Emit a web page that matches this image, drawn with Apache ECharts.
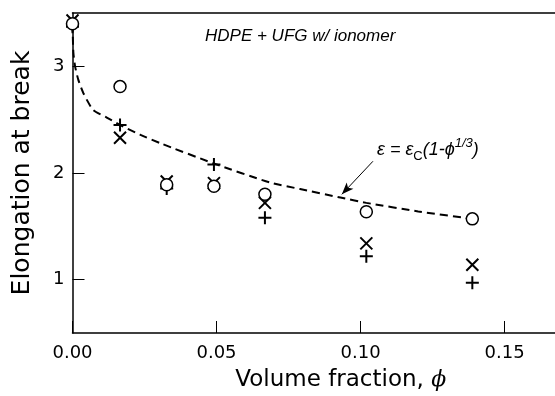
<!DOCTYPE html>
<html>
<head>
<meta charset="utf-8">
<script src="https://cdn.jsdelivr.net/npm/echarts@6/dist/echarts.min.js"></script>
<style>
  html, body { margin: 0; padding: 0; background: #fff; }
  #chart { width: 555px; height: 396px; }
</style>
</head>
<body>
<div id="chart"></div>
<script>
// volume fraction (phi) and elongation at break
const phiPts = [0, 0.0165, 0.0327, 0.0491, 0.0668, 0.102, 0.1388]
const elongCircle = [3.40, 2.81, 1.89, 1.875, 1.80, 1.636, 1.57]
const elongCross = [3.43, 2.33, 1.92, 1.905, 1.72, 1.34, 1.14]
const elongPlus = [3.37, 2.45, 1.855, 2.08, 1.58, 1.22, 0.97]

// dashed model curve
const phiFit = [0, 0.0003, 0.0009, 0.002, 0.00375, 0.0072, 0.0119, 0.0165, 0.0234, 0.0304, 0.049, 0.0686, 0.079, 0.093, 0.102, 0.12, 0.1388]
const elongFit = [3.40, 3.13, 3.00, 2.875, 2.75, 2.59, 2.52, 2.45, 2.36, 2.28, 2.09, 1.91, 1.85, 1.77, 1.72, 1.64, 1.57]

const xTicks = [0, 0.05, 0.10, 0.15]
const yTicks = [1, 2, 3]

const pairs = (xs, ys) => xs.map((x, i) => [x, ys[i]])

const ink = '#000'
const axisFont = 'DejaVu Sans'
const crossPath = 'path://M0,0L10,10M10,0L0,10'
const plusPath = 'path://M5,0L5,10M0,5L10,5'

const chart = echarts.init(document.getElementById('chart'))

chart.setOption({
  animation: false,
  title: {
    text: 'HDPE + UFG w/ ionomer',
    left: 200,
    top: 23,
    textStyle: {
      fontFamily: 'Liberation Sans',
      fontStyle: 'italic',
      fontWeight: 'normal',
      fontSize: 17,
      color: ink,
    },
  },
  grid: { left: 72.5, top: 13, right: 0, bottom: 63, outerBoundsMode: 'none', containLabel: false },
  xAxis: [
    {
      type: 'value',
      min: 0,
      max: 0.1675,
      name: 'Volume fraction, {i|ϕ}',
      nameLocation: 'middle',
      nameGap: 36,
      nameTextStyle: {
        fontFamily: axisFont,
        fontSize: 23,
        color: ink,
        padding: [0, 0, 0, 54],
        rich: {
          i: { fontFamily: 'DejaVu Serif', fontStyle: 'italic', fontSize: 22, color: ink },
        },
      },
      axisLine: { show: true, onZero: false, lineStyle: { color: ink, width: 1.5 } },
      axisTick: { inside: true, length: 12, customValues: xTicks, lineStyle: { color: ink, width: 1 } },
      axisLabel: {
        customValues: xTicks,
        formatter: (v) => v.toFixed(2),
        fontFamily: axisFont,
        fontSize: 18,
        color: ink,
        margin: 11,
      },
      splitLine: { show: false },
    },
    {
      type: 'value',
      position: 'top',
      min: 0,
      max: 0.1675,
      axisLine: { show: true, onZero: false, lineStyle: { color: ink, width: 1.5 } },
      axisTick: { show: false },
      axisLabel: { show: false },
      splitLine: { show: false },
    },
  ],
  yAxis: {
    type: 'value',
    min: 0.5,
    max: 3.5,
    name: 'Elongation at break',
    nameLocation: 'middle',
    nameGap: 38,
    nameTextStyle: { fontFamily: axisFont, fontSize: 25, color: ink },
    axisLine: { show: true, onZero: false, lineStyle: { color: ink, width: 1.5 } },
    axisTick: { inside: true, length: 12, customValues: yTicks, lineStyle: { color: ink, width: 1 } },
    axisLabel: {
      customValues: yTicks,
      fontFamily: axisFont,
      fontSize: 18,
      color: ink,
      margin: 8,
    },
    splitLine: { show: false },
  },
  graphic: [
    {
      type: 'text',
      left: 377,
      top: 137,
      style: {
        text: '{e|ε = ε}{sub|C}{e|(1-ϕ}{sup|1/3}{e|)}',
        rich: {
          e: { fontFamily: 'Liberation Sans', fontStyle: 'italic', fontSize: 18, color: ink, lineHeight: 26 },
          sub: { fontFamily: 'Liberation Sans', fontSize: 13, color: ink, verticalAlign: 'bottom', lineHeight: 26 },
          sup: { fontFamily: 'Liberation Sans', fontStyle: 'italic', fontSize: 13, color: ink, verticalAlign: 'top', lineHeight: 26 },
        },
      },
    },
  ],
  series: [
    {
      type: 'line',
      data: pairs(phiFit, elongFit),
      smooth: 0.2,
      showSymbol: false,
      lineStyle: { color: ink, width: 2, type: [8, 5] },
      z: 1,
      markLine: {
        silent: true,
        symbol: ['none', 'arrow'],
        symbolSize: [7, 12],
        label: { show: false },
        lineStyle: { color: ink, width: 1, type: 'solid' },
        data: [[{ coord: [0.1043, 2.11] }, { coord: [0.0935, 1.80] }]],
      },
    },
    {
      type: 'scatter',
      data: pairs(phiPts, elongCross),
      symbol: crossPath,
      symbolSize: 12,
      itemStyle: { color: 'none', borderColor: ink, borderWidth: 2, opacity: 1 },
      z: 2,
    },
    {
      type: 'scatter',
      data: pairs(phiPts, elongPlus),
      symbol: plusPath,
      symbolSize: 13,
      itemStyle: { color: 'none', borderColor: ink, borderWidth: 2, opacity: 1 },
      z: 3,
    },
    {
      type: 'scatter',
      data: pairs(phiPts, elongCircle),
      symbol: 'circle',
      symbolSize: 12,
      itemStyle: { color: '#fff', borderColor: ink, borderWidth: 1.5, opacity: 1 },
      z: 4,
    },
  ],
})
</script>
</body>
</html>
